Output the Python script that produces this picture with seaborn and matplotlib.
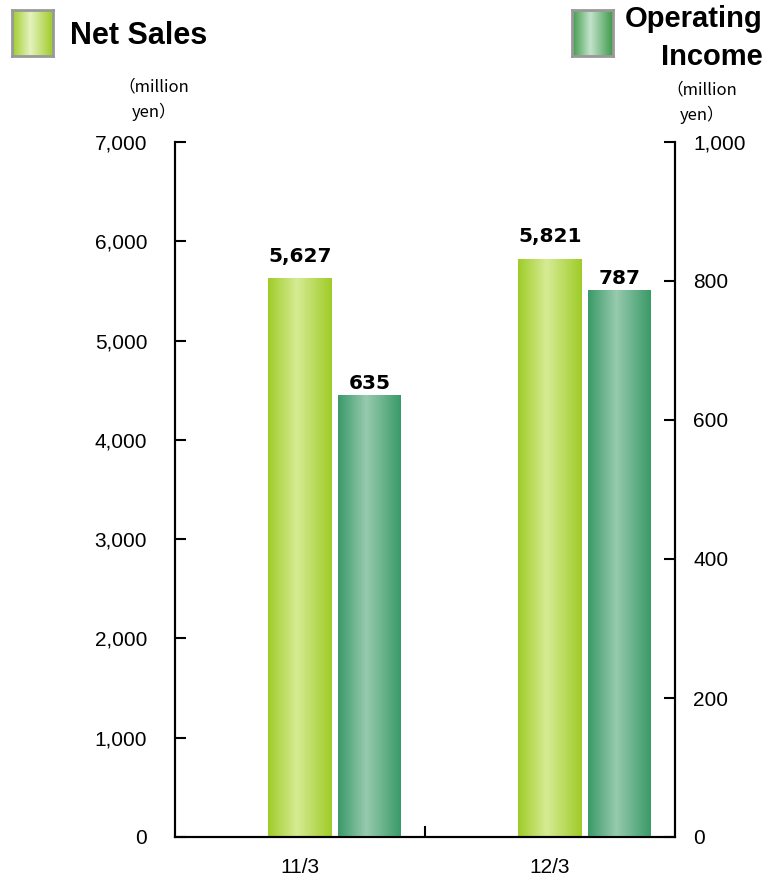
import numpy as np
import pandas as pd
import matplotlib
matplotlib.use("Agg")
import matplotlib.pyplot as plt
from matplotlib.colors import LinearSegmentedColormap
import seaborn as sns

# ---- data ----
periods = ["11/3", "12/3"]
net_sales = [5627, 5821]
operating_income = [635, 787]
left_ticks = [0, 1000, 2000, 3000, 4000, 5000, 6000, 7000]
right_ticks = [0, 200, 400, 600, 800, 1000]

sns.set_theme(style="white")
CJK = ["Noto Sans CJK JP", "DejaVu Sans"]
TICKF = ["Liberation Sans", "DejaVu Sans"]
plt.rcParams["font.family"] = TICKF
plt.rcParams["text.color"] = "black"
plt.rcParams["xtick.color"] = "black"
plt.rcParams["ytick.color"] = "black"
plt.rcParams["xtick.labelcolor"] = "black"
plt.rcParams["ytick.labelcolor"] = "black"

W, H = 769, 881
fig = plt.figure(figsize=(W / 100, H / 100), dpi=100)

def fx(px):
    return px / W

def fy(py):
    return 1 - py / H

ax = fig.add_axes([fx(175), fy(837), fx(675) - fx(175), fy(142) - fy(837)])
ax2 = ax.twinx()

df_ns = pd.DataFrame({"pos": np.arange(len(periods)) + 0.0, "val": net_sales})
df_oi = pd.DataFrame({"pos": np.arange(len(periods)) + 0.278, "val": operating_income})

sns.barplot(data=df_ns, x="pos", y="val", native_scale=True, width=0.256,
            color="#b8dc5a", ax=ax, errorbar=None, zorder=2)
sns.barplot(data=df_oi, x="pos", y="val", native_scale=True, width=0.252,
            color="#5aa97f", ax=ax2, errorbar=None, zorder=2)

def grad_cmap(edge, center):
    return LinearSegmentedColormap.from_list("g", [edge, center, edge])

t = np.linspace(0, 1, 200)
g = np.where(t < 0.45, t / 0.45 * 0.5, 0.5 + (t - 0.45) / 0.55 * 0.5)[None, :]

def paint(axis, cmap):
    for p in list(axis.patches):
        x0, y0 = p.get_x(), p.get_y()
        w, h = p.get_width(), p.get_height()
        axis.imshow(g, extent=[x0, x0 + w, y0, y0 + h], aspect="auto",
                    cmap=cmap, vmin=0, vmax=1, zorder=2, interpolation="bilinear")
        p.set_facecolor("none")
        p.set_edgecolor("none")

paint(ax, grad_cmap("#9fcc28", "#d6eb94"))
paint(ax2, grad_cmap("#3a9a68", "#97caae"))
ax.set_xlim(-0.5, 1.5)
ax.set_ylim(0, 7000)
ax2.set_ylim(0, 1000)

# value labels
lab_font = ["DejaVu Sans"]
for x, v in zip(df_ns["pos"], net_sales):
    ax.annotate(f"{v:,}", (x, v), xytext=(0, 12), textcoords="offset points",
                ha="center", va="baseline", fontsize=14.5, fontweight="bold",
                color="black", family=lab_font)
for x, v in zip(df_oi["pos"], operating_income):
    ax2.annotate(f"{v:,}", (x, v), xytext=(0, 4.5), textcoords="offset points",
                 ha="center", va="baseline", fontsize=14.5, fontweight="bold",
                 color="black", family=lab_font)

# axes styling
for a in (ax, ax2):
    a.grid(False)
    for s in a.spines.values():
        s.set_color("black")
        s.set_linewidth(1.5)
    a.spines["top"].set_visible(False)
    a.set_xlabel("")
    a.set_ylabel("")

ax.set_yticks(left_ticks)
ax.set_yticklabels([f"{v:,}" for v in left_ticks])
ax.tick_params(axis="y", direction="in", length=8, width=1.5, pad=20,
               labelsize=15, left=True, right=False)
ax2.set_yticks(right_ticks)
ax2.set_yticklabels([f"{v:,}" for v in right_ticks])
ax2.tick_params(axis="y", direction="in", length=8, width=1.5, pad=13,
                labelsize=15, right=True, left=False)

ax.set_xticks([0, 1])
ax.set_xticklabels(periods)
ax.tick_params(axis="x", which="major", length=0, pad=15, labelsize=15)
ax.set_xticks([0.5], minor=True)
ax.tick_params(axis="x", which="minor", direction="in", length=8, width=1.5,
               bottom=True)

# unit labels
fig.text(fx(154), fy(87), "（million", ha="center", va="center", fontsize=12,
         family=CJK)
fig.text(fx(154), fy(112), "yen）", ha="center", va="center", fontsize=12,
         family=CJK)
fig.text(fx(702), fy(90), "（million", ha="center", va="center", fontsize=12,
         family=CJK)
fig.text(fx(702), fy(115), "yen）", ha="center", va="center", fontsize=12,
         family=CJK)

# legend squares
def legend_square(x0, y0, x1, y1, edge, center):
    la = fig.add_axes([fx(x0), fy(y1), fx(x1) - fx(x0), fy(y0) - fy(y1)])
    la.imshow(g, aspect="auto", cmap=grad_cmap(edge, center), vmin=0, vmax=1,
              extent=[0, 1, 0, 1], interpolation="bilinear")
    la.set_xticks([])
    la.set_yticks([])
    for s in la.spines.values():
        s.set_color("#999999")
        s.set_linewidth(2)

legend_square(12, 10, 53, 56, "#9fcc28", "#e4f2bf")
legend_square(572, 10, 613, 56, "#3f9a4a", "#c3e3cb")

title_font = ["Liberation Sans", "DejaVu Sans"]
fig.text(fx(70), fy(36), "Net Sales", ha="left", va="center", fontsize=22,
         fontweight="bold", family=title_font)
fig.text(fx(763), fy(19), "Operating", ha="right", va="center", fontsize=21,
         fontweight="bold", family=title_font)
fig.text(fx(763), fy(57), "Income", ha="right", va="center", fontsize=21,
         fontweight="bold", family=title_font)

fig.savefig("out.png", dpi=100)
